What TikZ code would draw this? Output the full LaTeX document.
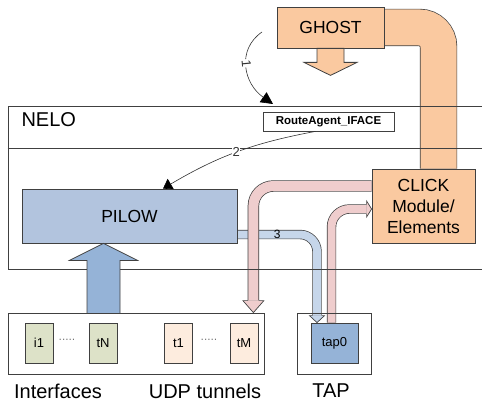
\documentclass[tikz,border=0pt]{standalone}
\usepackage{fontspec}
\setmainfont{Liberation Sans}
\usetikzlibrary{arrows.meta,backgrounds,positioning}

\definecolor{peach}{RGB}{250,201,160}
\definecolor{pilowc}{RGB}{178,196,222}
\definecolor{bluedark}{RGB}{149,179,215}
\definecolor{bluepipe}{RGB}{198,214,234}
\definecolor{pinkpipe}{RGB}{239,205,205}
\definecolor{ifc}{RGB}{221,226,200}
\definecolor{tunc}{RGB}{253,236,222}
\definecolor{linec}{RGB}{64,64,64}

\tikzstyle{box}=[draw=linec, line width=0.8pt, inner sep=0pt, align=center]
\tikzstyle{port}=[box, minimum width=28pt, minimum height=40pt, font=\fontsize{13}{13}\selectfont]
\tikzstyle{bigtext}=[font=\fontsize{17.5}{21}\selectfont]
\tikzstyle{caption}=[font=\fontsize{20}{20}\selectfont]
\tikzstyle{ellip}=[text=darkgray, font=\fontsize{10}{10}\selectfont]
\tikzstyle{pipe}=[draw=linec, line width=0.7pt]
\tikzstyle{pipehead}=[draw=linec, line width=0.7pt, line join=miter]
\tikzstyle{arrowline}=[black!80, line width=0.6pt]
\tikzstyle{numlbl}=[fill=white, inner sep=0.5pt, font=\fontsize{13}{13}\selectfont]

\begin{document}
\begin{tikzpicture}[x=1pt,y=-1pt]
    \useasboundingbox (0,0) rectangle (482,409);

    % NELO
    \node[box, minimum width=478pt, minimum height=163pt] (nelo) at (247,187.5) {};
    \draw[linec, line width=0.8pt] (nelo.west |- 0,148) -- (nelo.east |- 0,148);
    \node[caption, anchor=west] (nelolbl) at (18,120) {NELO};
    \node[box, fill=white, minimum width=131pt, minimum height=19pt, font=\bfseries\fontsize{11.5}{11.5}\selectfont] (ra) at (328.5,121.5) {RouteAgent\_IFACE};
    \node[box, fill=pilowc, minimum width=215pt, minimum height=54pt, bigtext] (pilow) at (129.5,216) {PILOW};
    \node[box, fill=peach, minimum width=103pt, minimum height=74pt, bigtext] (click) at (423.5,206) {CLICK\\Module/\\Elements};
    \node[box, fill=peach, minimum width=107pt, minimum height=41pt, bigtext] (ghost) at (330.5,27.5) {GHOST};

    % interfaces, tunnels, tap
    \node[box, minimum width=256pt, minimum height=61pt] (netbox) at (136,343.5) {};
    \node[box, minimum width=74pt, minimum height=61pt] (tapbox) at (334,343.5) {};
    \node[port, fill=ifc] (i1) at (39,343) {i1};
    \node[port, fill=ifc] (tN) at (103,343) {tN};
    \node[port, fill=tunc] (t1) at (178.5,343) {t1};
    \node[port, fill=tunc] (tM) at (244,343) {tM};
    \node[port, fill=bluedark, minimum width=47pt] (tap0) at (334.5,343) {tap0};
    \node[ellip] (dots1) at (67,341) {·····};
    \node[ellip] (dots2) at (209,341) {·····};
    \node[caption] (iflbl) at (58,391) {Interfaces};
    \node[caption] (udplbl) at (205,391) {UDP tunnels};
    \node[caption] (taplbl) at (331,391) {TAP};

    % pipes
    \begin{scope}[on background layer]
        \draw[pipe, double=peach, double distance=36pt, rounded corners=19pt] (ghost.east) -| ([xshift=15pt]click.north);
        \draw[pipe, double=bluepipe, double distance=8pt, rounded corners=17pt] ([yshift=-18.5pt]pilow.east) -| node[pos=0.25, font=\fontsize{12}{12}\selectfont] {3} ([xshift=-17.5pt,yshift=7pt]tap0.north);
        \filldraw[pipehead, fill=bluepipe] ([xshift=-17.5pt]tap0.north) ++(-4.5,-7) -- ++(-3,0) -- ++(7.5,7) -- ++(7.5,-7) -- ++(-3,0);
        \draw[pipe, double=pinkpipe, double distance=10pt, rounded corners=20pt] ([yshift=20pt]click.west) -| ([xshift=-11pt,yshift=12pt]netbox.north east);
        \filldraw[pipehead, fill=pinkpipe] ([xshift=-11pt]netbox.north east) ++(-5.5,-12) -- ++(-5,0) -- ++(10.5,12) -- ++(10.5,-12) -- ++(-5,0);
        \draw[pipe, double=pinkpipe, double distance=8pt, rounded corners=18pt] ([xshift=-3pt]tap0.north) |- ([xshift=-5pt,yshift=-3pt]click.west);
        \filldraw[pipehead, fill=pinkpipe] ([yshift=-3pt]click.west) ++(-5,-4.5) -- ++(0,-3.5) -- ++(5,8) -- ++(-5,8) -- ++(0,-3.5);
    \end{scope}

    % big arrows
    \filldraw[fill=peach, draw=linec, line width=0.8pt] ([xshift=-13.5pt]ghost.south) -- ++(0,14) -- ++(-13,0) -- ++(26.5,13) -- ++(26.5,-13) -- ++(-13,0) -- ++(0,-14) -- cycle;
    \filldraw[fill=bluedark, draw=linec, line width=0.8pt] ([xshift=-26pt]pilow.south) -- ++(34,17) -- ++(-17.5,0) -- ++(0,53) -- ++(-33,0) -- ++(0,-53) -- ++(-17.5,0) -- cycle;

    % numbered arrows
    \coordinate (a1s) at (262,32);
    \coordinate (a1e) at (273,104);
    \draw[arrowline, -{Triangle[length=12pt,width=12pt,color=black]}] (a1s) .. controls (236,50) and (244,84) .. node[numlbl, pos=0.45, rotate=-85] {1} (a1e);
    \draw[arrowline, -{Triangle[length=9pt,width=12pt,color=black]}] ([xshift=-13pt]ra.south) to[bend right=10] node[numlbl] {2} ([xshift=33.5pt]pilow.north);
\end{tikzpicture}
\end{document}
